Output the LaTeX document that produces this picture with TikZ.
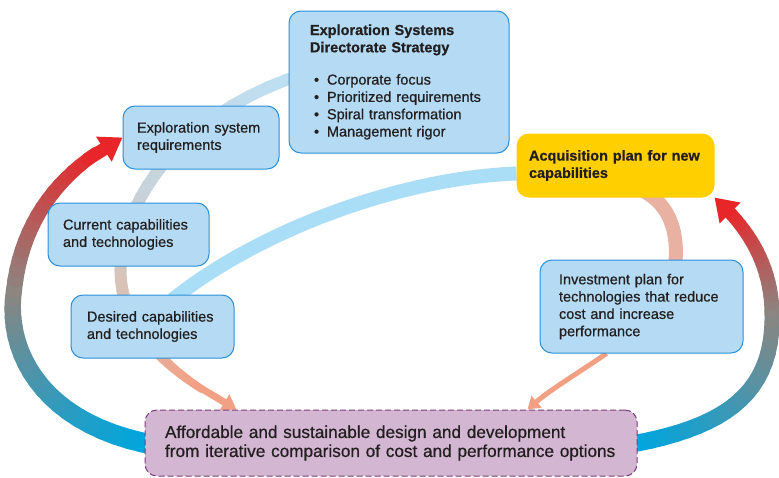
\documentclass[tikz,border=0pt]{standalone}
\usepackage{fontspec}
\setmainfont{Liberation Sans}[RawFeature={embolden=0.7}]
\usetikzlibrary{arrows.meta,backgrounds}

\definecolor{ink}{HTML}{231F20}
\definecolor{boxfill}{HTML}{B4DBF3}
\definecolor{boxline}{HTML}{2B8FD9}
\definecolor{goalyellow}{HTML}{FFCF00}
\definecolor{resultfill}{HTML}{D3B6D1}
\definecolor{resultline}{HTML}{7E3A7E}
\definecolor{skyband}{HTML}{AADEF7}
\definecolor{arcblue}{HTML}{BEDFF2}
\definecolor{arcgray}{HTML}{C7D3DA}
\definecolor{arctan}{HTML}{DCBFB1}
\definecolor{arcsalmon}{HTML}{F2A083}
\definecolor{planband}{HTML}{E8B1A2}
\definecolor{bigblue}{HTML}{00A6DE}
\definecolor{biggray}{HTML}{8C8580}
\definecolor{bigred}{HTML}{E8262A}

\begin{document}
\begin{tikzpicture}[x=1pt,y=-1pt]
  % Settings
  \tikzset{
    box/.style={draw=boxline, fill=boxfill, line width=1pt, rounded corners=12pt, align=left, inner ysep=0pt, text=ink, font=\fontsize{14.5}{17.3}\selectfont},
    goal/.style={box, draw=goalyellow, fill=goalyellow, font=\bfseries\fontsize{14.5}{17.3}\selectfont},
    result/.style={box, draw=resultline, fill=resultfill, dash pattern=on 6pt off 3pt, font=\fontsize{17.2}{19}\selectfont},
    seg/.style={line cap=round},
    skyarc/.style={draw=skyband, line width=14pt},
    planarc/.style={draw=planband, line width=14pt},
    thinarrow/.style={draw=arcsalmon, line width=5pt, -{Triangle[length=12pt,width=15pt]}},
  }
  \useasboundingbox (0,0) rectangle (779,477);
  % Boxes
  \node[box, minimum width=220pt, minimum height=142pt, text width=178pt, inner xsep=21pt] (strat) at (399,82) {%
    \textbf{Exploration Systems}\\\textbf{Directorate Strategy}\\[15pt]
    \hspace*{4pt}\makebox[13pt][l]{\textbullet}Corporate focus\\
    \hspace*{4pt}\makebox[13pt][l]{\textbullet}Prioritized requirements\\
    \hspace*{4pt}\makebox[13pt][l]{\textbullet}Spiral transformation\\
    \hspace*{4pt}\makebox[13pt][l]{\textbullet}Management rigor};
  \node[box, minimum width=156pt, minimum height=63pt, text width=128pt, inner xsep=14pt] (req) at (201,137.5) {Exploration system\\requirements};
  \node[box, minimum width=161pt, minimum height=63pt, text width=131pt, inner xsep=15pt] (cur) at (128.5,234.5) {Current capabilities\\and technologies};
  \node[box, minimum width=163pt, minimum height=63pt, text width=131pt, inner xsep=16pt] (des) at (152.5,326.5) {Desired capabilities\\and technologies};
  \node[goal, minimum width=197pt, minimum height=63pt, text width=173pt, inner xsep=12pt] (acq) at (615.5,165.5) {Acquisition plan for new\\capabilities};
  \node[box, minimum width=203pt, minimum height=93pt, text width=165pt, inner xsep=19pt] (inv) at (641.5,306.5) {Investment plan for\\technologies that reduce\\cost and increase\\performance};
  \node[result, minimum width=492pt, minimum height=66pt, text width=452pt, inner xsep=20pt] (aff) at (391,443) {Affordable and sustainable design and development\\from iterative comparison of cost and performance options};

  \begin{scope}[on background layer]
    % Strategy arc down to the result
    \coordinate (umid) at (125,300);
    \foreach \i [evaluate=\i as \t using \i/20] in {0,...,20} {
      \path ([yshift=3pt]strat.west) .. controls (150,130) and (105,240) .. (umid) coordinate[pos=\t] (ua\i);
      \path (umid) .. controls (140,350) and (190,385) .. ([xshift=92pt]aff.north west) coordinate[pos=\t] (ub\i);
    }
    \foreach \i [evaluate=\i as \j using int(\i+1), evaluate=\i as \c using int(10*\i)] in {0,...,9}
      \draw[seg, line width=12pt, draw=arcgray!\c!arcblue] (ua\i) -- (ua\j);
    \foreach \i [evaluate=\i as \j using int(\i+1), evaluate=\i as \c using int(10*(\i-10))] in {10,...,19}
      \draw[seg, line width=12pt, draw=arctan!\c!arcgray] (ua\i) -- (ua\j);
    \foreach \i [evaluate=\i as \j using int(\i+1), evaluate=\i as \c using int(7*\i), evaluate=\i as \w using 12-0.3*\i] in {0,...,14}
      \draw[seg, line width=\w pt, draw=arcsalmon!\c!arctan] (ub\i) -- (ub\j);
    \draw[thinarrow, line width=7pt, -{Triangle[length=14pt,width=18pt]}] (ub14) -- (ub20);
    % Desired capabilities to acquisition plan
    \draw[skyarc] ([xshift=20pt,yshift=-5pt]des.north) .. controls (260,230) and (400,178) .. ([yshift=-8pt]acq.west);
    % Acquisition plan to investment plan
    \draw[planarc] ([xshift=20pt,yshift=10pt]acq.south) .. controls (668,200) and (678,228) .. ([xshift=34pt,yshift=-2pt]inv.north);
    \draw[thinarrow] ([xshift=-35pt]inv.south) .. controls (575,375) and (550,390) .. ([xshift=-110pt]aff.north east);
    % Left loop arrow
    \coordinate (lmid) at (14,290);
    \foreach \i [evaluate=\i as \t using \i/20] in {0,...,20} {
      \path (aff.west) .. controls (40,420) and (5,350) .. (lmid) coordinate[pos=\t] (la\i);
      \path (lmid) .. controls (22,220) and (60,170) .. (req.west) coordinate[pos=\t] (lb\i);
    }
    \foreach \i [evaluate=\i as \j using int(\i+1), evaluate=\i as \c using int(5*\i), evaluate=\i as \w using 20-0.2*\i] in {0,...,19}
      \draw[seg, line width=\w pt, draw=biggray!\c!bigblue] (la\i) -- (la\j);
    \foreach \i [evaluate=\i as \j using int(\i+1), evaluate=\i as \c using int(6*\i), evaluate=\i as \w using 16-0.18*\i] in {0,...,16}
      \draw[seg, line width=\w pt, draw=bigred!\c!biggray] (lb\i) -- (lb\j);
    \draw[draw=bigred, fill=bigred, line width=13pt, -{Triangle[length=22pt,width=28pt]}] (lb16) -- (lb20);
    % Right loop arrow
    \coordinate (rmid) at (772,310);
    \foreach \i [evaluate=\i as \t using \i/20] in {0,...,20} {
      \path (aff.east) .. controls (730,425) and (775,390) .. (rmid) coordinate[pos=\t] (ra\i);
      \path (rmid) .. controls (770,260) and (745,225) .. (acq.south east) coordinate[pos=\t] (rb\i);
    }
    \foreach \i [evaluate=\i as \j using int(\i+1), evaluate=\i as \c using int(5*\i), evaluate=\i as \w using 17-0.1*\i] in {0,...,19}
      \draw[seg, line width=\w pt, draw=biggray!\c!bigblue] (ra\i) -- (ra\j);
    \foreach \i [evaluate=\i as \j using int(\i+1), evaluate=\i as \c using int(6*\i), evaluate=\i as \w using 15-0.15*\i] in {0,...,16}
      \draw[seg, line width=\w pt, draw=bigred!\c!biggray] (rb\i) -- (rb\j);
    \draw[draw=bigred, fill=bigred, line width=12pt, -{Triangle[length=22pt,width=28pt]}] (rb16) -- (rb20);
  \end{scope}
\end{tikzpicture}
\end{document}
